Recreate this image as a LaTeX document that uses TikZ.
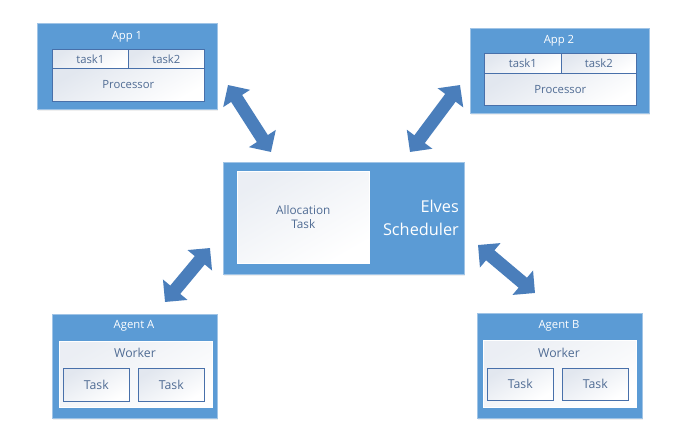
\documentclass[tikz,border=0pt]{standalone}
\usepackage{fontspec}
\setmainfont{Open Sans}
\usetikzlibrary{arrows.meta,shadows}
\definecolor{boxblue}{RGB}{91,155,213}
\definecolor{boxedge}{RGB}{160,196,230}
\definecolor{arrowblue}{RGB}{74,126,187}
\definecolor{textblue}{RGB}{80,108,148}
\definecolor{innergray}{RGB}{226,231,239}
\definecolor{inneredge}{RGB}{72,112,170}
\begin{document}
\begin{tikzpicture}[x=1pt,y=-1pt,
  outerbox/.style={draw=boxedge, fill=boxblue, line width=0.8pt, inner sep=0pt, anchor=north west,
    drop shadow={opacity=0.12, shadow xshift=1pt, shadow yshift=-2pt}},
  cellbox/.style={draw=inneredge, line width=0.6pt, inner sep=0pt, anchor=north west,
    top color=innergray, bottom color=white, shading angle=30,
    font=\fontsize{11.3}{13}\selectfont, text=textblue},
  taskbox/.style={cellbox, font=\fontsize{12.3}{14}\selectfont},
  whitebox/.style={draw=white, line width=0.6pt, inner sep=0pt, anchor=north west,
    top color=innergray!70, bottom color=white, shading angle=30},
  titletext/.style={font=\fontsize{11.3}{13}\selectfont, text=white, inner sep=0pt},
  plaintext/.style={font=\fontsize{11.8}{13.5}\selectfont, text=textblue, inner sep=0pt},
  fatarrow/.style={draw=arrowblue, line width=13pt,
    {Triangle[length=16pt,width=31pt]}-{Triangle[length=16pt,width=31pt]}}
]
\useasboundingbox (0,0) rectangle (682,441);
\fill[white] (0,0) rectangle (682,441);

% App 1
\node[outerbox, minimum width=180pt, minimum height=86pt] (app1) at (37,23) {};
\node[titletext] (app1t) at (127,37) {App 1};
\node[cellbox, minimum width=76pt, minimum height=19pt] (a1t1) at (52,49) {task1};
\node[cellbox, minimum width=76pt, minimum height=19pt] (a1t2) at (128,49) {task2};
\node[cellbox, minimum width=152pt, minimum height=33pt] (a1p) at (52,68) {Processor};

% App 2
\node[outerbox, minimum width=179pt, minimum height=85pt] (app2) at (470,28) {};
\node[titletext] (app2t) at (559,41) {App 2};
\node[cellbox, minimum width=77pt, minimum height=20pt] (a2t1) at (484,53) {task1};
\node[cellbox, minimum width=75pt, minimum height=20pt] (a2t2) at (561,53) {task2};
\node[cellbox, minimum width=152pt, minimum height=32pt] (a2p) at (484,73) {Processor};

% Scheduler
\node[outerbox, minimum width=241pt, minimum height=112pt] (sched) at (223,162) {};
\node[whitebox, minimum width=132pt, minimum height=92pt] (alloc) at (237,171) {};
\node[plaintext, align=center] (alloct) at (alloc.center) {Allocation\\[1pt]Task};
\node[font=\fontsize{16.3}{22.5}\selectfont, text=white, align=right, anchor=east, inner sep=0pt]
  (schedt) at (459,218) {Elves\\Scheduler};

% Agent A
\node[outerbox, minimum width=165pt, minimum height=104pt] (agA) at (52,314) {};
\node[titletext] (agAt) at (134,326) {Agent A};
\node[whitebox, minimum width=153pt, minimum height=66pt] (wA) at (59,341) {};
\node[plaintext, font=\fontsize{12.3}{14}\selectfont] (wAt) at (135,353) {Worker};
\node[taskbox, minimum width=66pt, minimum height=33pt] (tA1) at (63,368) {Task};
\node[taskbox, minimum width=66pt, minimum height=33pt] (tA2) at (138,368) {Task};

% Agent B
\node[outerbox, minimum width=165pt, minimum height=105pt] (agB) at (477,313) {};
\node[titletext] (agBt) at (559,326) {Agent B};
\node[whitebox, minimum width=153pt, minimum height=67pt] (wB) at (483,340) {};
\node[plaintext, font=\fontsize{12.3}{14}\selectfont] (wBt) at (559,353) {Worker};
\node[taskbox, minimum width=66pt, minimum height=32pt] (tB1) at (487,368) {Task};
\node[taskbox, minimum width=66pt, minimum height=32pt] (tB2) at (562,368) {Task};

% arrows
\coordinate (p1a) at (228,85);  \coordinate (p1b) at (271,152);
\coordinate (p2a) at (460,85);  \coordinate (p2b) at (410,152);
\coordinate (p3a) at (165,302); \coordinate (p3b) at (210,248);
\coordinate (p4a) at (478,245); \coordinate (p4b) at (535,293);
\draw[fatarrow] (p1a) -- (p1b);
\draw[fatarrow] (p2a) -- (p2b);
\draw[fatarrow] (p3a) -- (p3b);
\draw[fatarrow] (p4a) -- (p4b);
\end{tikzpicture}
\end{document}
